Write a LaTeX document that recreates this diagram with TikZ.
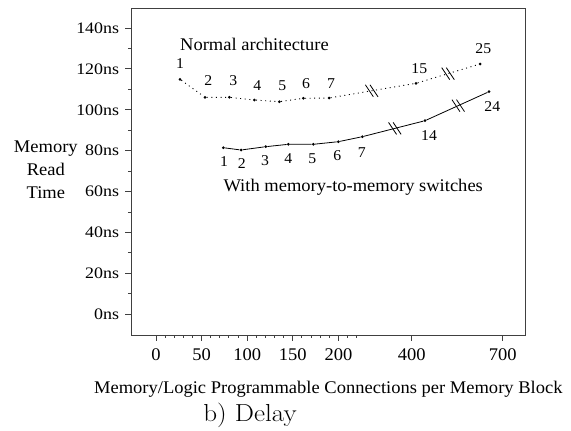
\documentclass[tikz,border=0pt]{standalone}
\usepackage{fontspec}
\setmainfont[FakeStretch=1.04]{Liberation Serif}
\newfontfamily\tickfont[FakeStretch=1.12]{Liberation Serif}
\newfontfamily\ptfont[FakeStretch=1.05]{Liberation Serif}
\newfontfamily\lmfont[FakeStretch=1.1]{Latin Modern Roman}

\tikzset{
  dot/.style={circle, fill, inner sep=0pt, minimum size=3pt},
  num/.style={anchor=base, inner sep=0pt},
  ptnum/.style={num, font=\ptfont\fontsize{15}{17}\selectfont},
  frame/.style={draw=black!75, line width=1pt},
  normalline/.style={line width=0.9pt, dash pattern=on 1pt off 3.6pt},
  switchline/.style={line width=0.8pt},
  brkline/.style={line width=0.8pt},
}

\newcommand{\brkmark}[1]{%
  \draw[brkline] (#1) ++(-2.3,0) +(-4,-6) -- +(4,6) (#1) ++(2.3,0) +(-4,-6) -- +(4,6);}

\begin{document}
\begin{tikzpicture}[x=1pt, y=-1pt, font=\fontsize{17.8}{20}\selectfont]
  \useasboundingbox (0,0) rectangle (571,431);

  % frame and ticks
  \draw[frame] (131,8.3) rectangle (525.5,335);
  \foreach \v in {0,20,...,140} {
    \draw[frame] (125,{314.3-2.045*\v}) -- (131,{314.3-2.045*\v});
    \node[anchor=east, inner sep=0pt, font=\tickfont\fontsize{16}{18}\selectfont] (yl\v) at (119.3,{314.3-2.045*\v}) {\v ns};
  }
  \foreach \v in {10,30,...,130}
    \draw[frame] (127.8,{314.3-2.045*\v}) -- (131,{314.3-2.045*\v});
  \foreach \v in {0,50,...,200} {
    \draw[frame] ({156+0.912*\v},335) -- ++(0,5.5);
    \node[num] (xl\v) at ({156+0.912*\v},360.7) {\v};
  }
  \foreach \v in {10,20,30,40,60,70,80,90,110,120,130,140,160,170,180,190,210,220}
    \draw[frame] ({156+0.912*\v},335) -- ++(0,3);
  \draw[frame] (411.7,335) -- ++(0,5.5);
  \node[num] (xl400) at (411.7,360.7) {400};
  \draw[frame] (502.7,335) -- ++(0,5.5);
  \node[num] (xl700) at (502.7,360.7) {700};

  % axis titles
  \node[align=center, inner sep=0pt, font=\fontsize{17.8}{23}\selectfont] (ytitle) at (45.8,169.4) {Memory\\Read\\Time};
  \node[num] (xtitle) at (328.3,393.3) {Memory/Logic Programmable Connections per Memory Block};
  \node[num, font=\lmfont\fontsize{24.6}{28}\selectfont] (caption) at (250,421.7) {b)\ Delay};

  % normal architecture
  \node[dot] (n1) at (180,79.3) {};
  \node[dot] (n2) at (205,97.3) {};
  \node[dot] (n3) at (229.3,97.3) {};
  \node[dot] (n4) at (254.3,100) {};
  \node[dot] (n5) at (279.3,101.7) {};
  \node[dot] (n6) at (303.3,98.3) {};
  \node[dot] (n7) at (329,98) {};
  \node[dot] (n15) at (416,83.3) {};
  \node[dot] (n25) at (480,64) {};
  \draw[normalline] (n1) -- (n2) -- (n3) -- (n4) -- (n5) -- (n6) -- (n7) -- (n15) -- (n25);
  \path (n7) -- (n15) coordinate[pos=0.49] (nb1);
  \path (n15) -- (n25) coordinate[pos=0.5] (nb2);
  \brkmark{nb1}
  \brkmark{nb2}

  \node[ptnum] (ln1) at (180,68.3) {1};
  \node[ptnum] (ln2) at (208.3,85.7) {2};
  \node[ptnum] (ln3) at (233.3,85.7) {3};
  \node[ptnum] (ln4) at (257.3,90.7) {4};
  \node[ptnum] (ln5) at (282.3,90.7) {5};
  \node[ptnum] (ln6) at (306,88.3) {6};
  \node[ptnum] (ln7) at (331,88.3) {7};
  \node[ptnum] (ln15) at (419.3,73.3) {15};
  \node[ptnum] (ln25) at (483.3,53.3) {25};
  \node[anchor=base west, inner sep=0pt] (normal) at (180,50.7) {Normal architecture};

  % memory-to-memory switches
  \node[dot] (m1) at (223.3,147.7) {};
  \node[dot] (m2) at (241,150) {};
  \node[dot] (m3) at (265.7,146.7) {};
  \node[dot] (m4) at (288.3,144.3) {};
  \node[dot] (m5) at (313.3,144.3) {};
  \node[dot] (m6) at (338.3,141.7) {};
  \node[dot] (m7) at (362.3,136.7) {};
  \node[dot] (m14) at (425,120.7) {};
  \node[dot] (m24) at (489,91.7) {};
  \draw[switchline] (m1) -- (m2) -- (m3) -- (m4) -- (m5) -- (m6) -- (m7) -- (m14) -- (m24);
  \path (m7) -- (m14) coordinate[pos=0.52] (mb1);
  \path (m14) -- (m24) coordinate[pos=0.52] (mb2);
  \brkmark{mb1}
  \brkmark{mb2}

  \node[ptnum] (lm1) at (224,166.7) {1};
  \node[ptnum] (lm2) at (241.7,168.3) {2};
  \node[ptnum] (lm3) at (265,165) {3};
  \node[ptnum] (lm4) at (288.3,163.3) {4};
  \node[ptnum] (lm5) at (312.3,163.3) {5};
  \node[ptnum] (lm6) at (337.3,160.7) {6};
  \node[ptnum] (lm7) at (361.7,157.3) {7};
  \node[ptnum] (lm14) at (429,140) {14};
  \node[ptnum] (lm24) at (492.3,111.7) {24};
  \node[anchor=base west, inner sep=0pt] (switches) at (223.3,191.7) {With memory-to-memory switches};
\end{tikzpicture}
\end{document}
